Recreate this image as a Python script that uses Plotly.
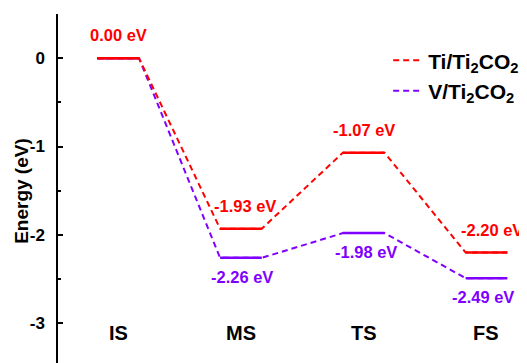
import plotly.graph_objects as go

states = ["IS", "MS", "TS", "FS"]
ti_energy = [0.00, -1.93, -1.07, -2.20]
v_energy = [0.00, -2.26, -1.98, -2.49]
ti_labels = ["0.00 eV", "-1.93 eV", "-1.07 eV", "-2.20 eV"]
v_labels = [None, "-2.26 eV", "-1.98 eV", "-2.49 eV"]
series_names = ["Ti/Ti<sub>2</sub>CO<sub>2</sub>", "V/Ti<sub>2</sub>CO<sub>2</sub>"]

RED = "#ff0000"
VIO = "#8000ff"
HALF = 0.17
FONT = "Liberation Sans, Arial, sans-serif"

fig = go.Figure()

def add_series(energies, color, name):
    xs, ys = [], []
    for i, e in enumerate(energies):
        xs += [i + 1 - HALF, i + 1 + HALF]
        ys += [e, e]
    fig.add_trace(go.Scatter(x=xs, y=ys, mode="lines", name="<b>" + name + "</b>",
                             line=dict(color=color, width=2, dash="6px,4px"),
                             showlegend=True))
    bx, by = [], []
    for i, e in enumerate(energies):
        bx += [i + 1 - HALF, i + 1 + HALF, None]
        by += [e, e, None]
    fig.add_trace(go.Scatter(x=bx, y=by, mode="lines", showlegend=False,
                             line=dict(color=color, width=2.5)))

add_series(v_energy, VIO, series_names[1])
add_series(ti_energy, RED, series_names[0])

for i, (e, t) in enumerate(zip(ti_energy, ti_labels)):
    fig.add_annotation(x=i + 1, y=e, text="<b>" + t + "</b>", showarrow=False, yshift=23,
                       xshift=[0, 4, 0, 6][i],
                       font=dict(family=FONT, size=16.5, color=RED))
for i, (e, t) in enumerate(zip(v_energy, v_labels)):
    if t is None:
        continue
    fig.add_annotation(x=i + 1, y=e, text="<b>" + t + "</b>", showarrow=False, yshift=-19,
                       xshift=[0, 1, 2, -3][i],
                       font=dict(family=FONT, size=16.5, color=VIO))
for i, s in enumerate(states):
    fig.add_annotation(x=i + 1, y=-3.11, text="<b>" + s + "</b>", showarrow=False,
                       font=dict(family=FONT, size=20, color="black"))

fig.add_annotation(xref="paper", yref="paper", x=-0.077, y=0.493, textangle=-90,
                   xanchor="center", yanchor="middle",
                   text="<b>Energy (eV)</b>", showarrow=False,
                   font=dict(family=FONT, size=19, color="black"))

fig.update_layout(
    width=519, height=355,
    margin=dict(l=50, r=0, t=6, b=0, autoexpand=False),
    paper_bgcolor="white", plot_bgcolor="white",
    font=dict(family=FONT, color="black"),
    legend=dict(x=0.704, y=0.925, xanchor="left", yanchor="top",
                traceorder="reversed",
                font=dict(family=FONT, size=21, color="black"),
                bgcolor="rgba(0,0,0,0)", tracegroupgap=0),
    xaxis=dict(range=[0.51, 4.33], visible=False),
    yaxis=dict(range=[-3.45, 0.5], showgrid=False, zeroline=False, automargin=False,
               showline=True, linecolor="black", linewidth=1.5,
               ticks="inside", ticklen=5, tickwidth=1.5, tickcolor="black",
               tickvals=[-3, -2, -1, 0], ticktext=["<b>-3</b>", "<b>-2</b>", "<b>-1</b>", "<b>0</b>"],
               ticklabelstandoff=8,
               minor=dict(tickvals=[-3.5, -2.5, -1.5, -0.5, 0.5], ticks="inside",
                          ticklen=3, tickwidth=1.5, tickcolor="black"),
               tickfont=dict(family=FONT, size=17, color="black")),
)

fig.write_html("out.html")
